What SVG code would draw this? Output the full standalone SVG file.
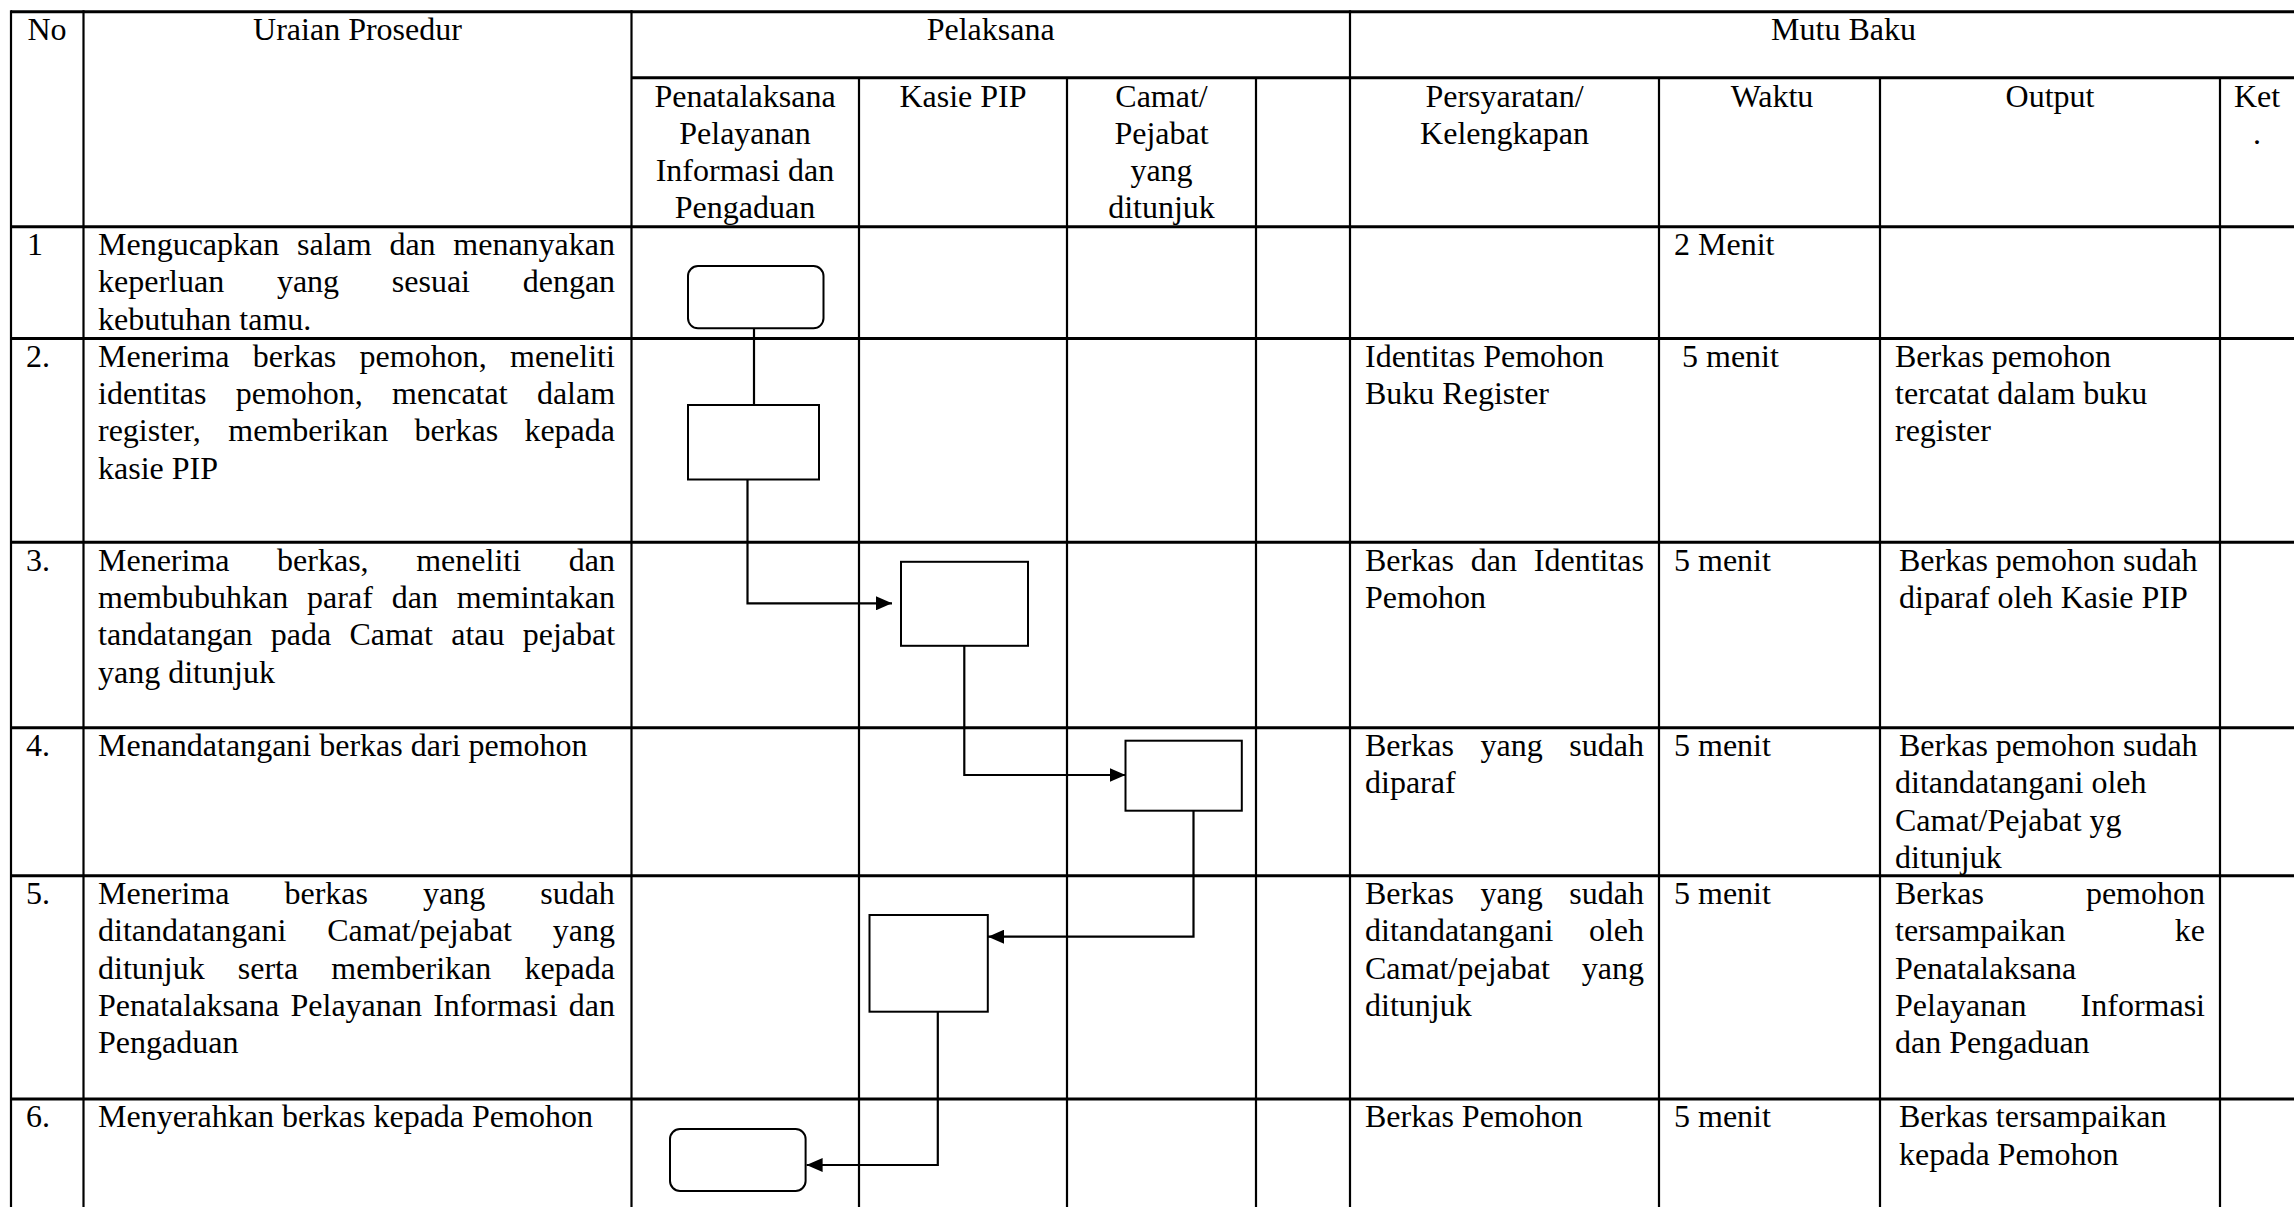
<svg xmlns="http://www.w3.org/2000/svg" width="2294" height="1207" viewBox="0 0 2294 1207">
<style>
.h{stroke:#000;stroke-width:3;fill:none}
.v{stroke:#000;stroke-width:2.2;fill:none}
.t{font-family:'Liberation Serif','Times New Roman',serif;font-size:32px;fill:#000}
.c{text-anchor:middle}
.node{fill:#fff;stroke:#000;stroke-width:2}
.conn{fill:none;stroke:#000;stroke-width:2.2}
</style>
<defs>
<marker id="arr" markerUnits="userSpaceOnUse" viewBox="0 0 16 14" refX="16" refY="7" markerWidth="16" markerHeight="14" orient="auto">
<path d="M0,0 L16,7 L0,14 z" fill="#000"/>
</marker>
</defs>
<rect x="0" y="0" width="2294" height="1207" fill="#fff"/>
<g id="table">
<line class="h" x1="11" y1="11.7" x2="2340" y2="11.7"/>
<line class="h" x1="631.5" y1="77.7" x2="2340" y2="77.7"/>
<line class="h" x1="11" y1="226.7" x2="2340" y2="226.7"/>
<line class="h" x1="11" y1="338.5" x2="2340" y2="338.5"/>
<line class="h" x1="11" y1="542.3" x2="2340" y2="542.3"/>
<line class="h" x1="11" y1="727.7" x2="2340" y2="727.7"/>
<line class="h" x1="11" y1="875.7" x2="2340" y2="875.7"/>
<line class="h" x1="11" y1="1099" x2="2340" y2="1099"/>
<line class="v" x1="11" y1="10.2" x2="11" y2="1210"/>
<line class="v" x1="83.5" y1="10.2" x2="83.5" y2="1210"/>
<line class="v" x1="631.5" y1="10.2" x2="631.5" y2="1210"/>
<line class="v" x1="859" y1="77.7" x2="859" y2="1210"/>
<line class="v" x1="1067" y1="77.7" x2="1067" y2="1210"/>
<line class="v" x1="1256" y1="77.7" x2="1256" y2="1210"/>
<line class="v" x1="1350" y1="10.2" x2="1350" y2="1210"/>
<line class="v" x1="1659" y1="77.7" x2="1659" y2="1210"/>
<line class="v" x1="1880" y1="77.7" x2="1880" y2="1210"/>
<line class="v" x1="2220" y1="77.7" x2="2220" y2="1210"/>
</g>
<g id="header" class="t" font-family="Liberation Serif, serif">
<text class="c" x="47" y="40">No</text>
<text class="c" x="357.5" y="40">Uraian Prosedur</text>
<text class="c" x="990.7" y="40">Pelaksana</text>
<text class="c" x="1843.5" y="40">Mutu Baku</text>
<text class="c" x="745" y="107">Penatalaksana</text>
<text class="c" x="745" y="144">Pelayanan</text>
<text class="c" x="745" y="181">Informasi dan</text>
<text class="c" x="745" y="218">Pengaduan</text>
<text class="c" x="963" y="107">Kasie PIP</text>
<text class="c" x="1161.5" y="107">Camat/</text>
<text class="c" x="1161.5" y="144">Pejabat</text>
<text class="c" x="1161.5" y="181">yang</text>
<text class="c" x="1161.5" y="218">ditunjuk</text>
<text class="c" x="1504.5" y="107">Persyaratan/</text>
<text class="c" x="1504.5" y="144">Kelengkapan</text>
<text class="c" x="1772" y="107">Waktu</text>
<text class="c" x="2050" y="107">Output</text>
<text class="c" x="2257" y="107">Ket</text>
<text class="c" x="2257" y="144">.</text>
</g>
<g id="row1" class="t" font-family="Liberation Serif, serif">
<text x="27" y="255">1</text>
<text y="255"><tspan x="98">Mengucapkan</tspan><tspan x="297">salam</tspan><tspan x="389.4">dan</tspan><tspan x="453.3">menanyakan</tspan></text>
<text y="292.3"><tspan x="98">keperluan</tspan><tspan x="276.9">yang</tspan><tspan x="391.8">sesuai</tspan><tspan x="522.7">dengan</tspan></text>
<text x="98" y="329.6">kebutuhan tamu.</text>
<text x="1674" y="255">2 Menit</text>
</g>
<g id="row2" class="t" font-family="Liberation Serif, serif">
<text x="26" y="366.8">2.</text>
<text y="366.8"><tspan x="98">Menerima</tspan><tspan x="252.8">berkas</tspan><tspan x="359.6">pemohon,</tspan><tspan x="510">meneliti</tspan></text>
<text y="404.1"><tspan x="98">identitas</tspan><tspan x="235.7">pemohon,</tspan><tspan x="392.1">mencatat</tspan><tspan x="536.9">dalam</tspan></text>
<text y="441.4"><tspan x="98">register,</tspan><tspan x="228.3">memberikan</tspan><tspan x="414.6">berkas</tspan><tspan x="524.4">kepada</tspan></text>
<text x="98" y="478.7">kasie PIP</text>
<text x="1365" y="366.8">Identitas Pemohon</text>
<text x="1365" y="404.1">Buku Register</text>
<text x="1682" y="366.8">5 menit</text>
<text x="1895" y="366.8">Berkas pemohon</text>
<text x="1895" y="404.1">tercatat dalam buku</text>
<text x="1895" y="441.4">register</text>
</g>
<g id="row3" class="t" font-family="Liberation Serif, serif">
<text x="26" y="570.6">3.</text>
<text y="570.6"><tspan x="98">Menerima</tspan><tspan x="277.1">berkas,</tspan><tspan x="416.2">meneliti</tspan><tspan x="568.7">dan</tspan></text>
<text y="607.9"><tspan x="98">membubuhkan</tspan><tspan x="307.1">paraf</tspan><tspan x="391.7">dan</tspan><tspan x="456.8">memintakan</tspan></text>
<text y="645.2"><tspan x="98">tandatangan</tspan><tspan x="270.8">pada</tspan><tspan x="349.4">Camat</tspan><tspan x="451.2">atau</tspan><tspan x="522.7">pejabat</tspan></text>
<text x="98" y="682.5">yang ditunjuk</text>
<text y="570.6"><tspan x="1365">Berkas</tspan><tspan x="1470.7">dan</tspan><tspan x="1533.8">Identitas</tspan></text>
<text x="1365" y="607.9">Pemohon</text>
<text x="1674" y="570.6">5 menit</text>
<text x="1899" y="570.6">Berkas pemohon sudah</text>
<text x="1899" y="607.9">diparaf oleh Kasie PIP</text>
</g>
<g id="row4" class="t" font-family="Liberation Serif, serif">
<text x="26" y="756">4.</text>
<text x="98" y="756">Menandatangani berkas dari pemohon</text>
<text y="756"><tspan x="1365">Berkas</tspan><tspan x="1480.5">yang</tspan><tspan x="1569.3">sudah</tspan></text>
<text x="1365" y="793.3">diparaf</text>
<text x="1674" y="756">5 menit</text>
<text x="1899" y="756">Berkas pemohon sudah</text>
<text x="1895" y="793.3">ditandatangani oleh</text>
<text x="1895" y="830.6">Camat/Pejabat yg</text>
<text x="1895" y="867.9">ditunjuk</text>
</g>
<g id="row5" class="t" font-family="Liberation Serif, serif">
<text x="26" y="904">5.</text>
<text y="904"><tspan x="98">Menerima</tspan><tspan x="284.5">berkas</tspan><tspan x="423">yang</tspan><tspan x="540.2">sudah</tspan></text>
<text y="941.3"><tspan x="98">ditandatangani</tspan><tspan x="327.2">Camat/pejabat</tspan><tspan x="552.8">yang</tspan></text>
<text y="978.6"><tspan x="98">ditunjuk</tspan><tspan x="237.8">serta</tspan><tspan x="331.3">memberikan</tspan><tspan x="524.4">kepada</tspan></text>
<text y="1015.9"><tspan x="98">Penatalaksana</tspan><tspan x="290.5">Pelayanan</tspan><tspan x="433.2">Informasi</tspan><tspan x="568.8">dan</tspan></text>
<text x="98" y="1053.2">Pengaduan</text>
<text y="904"><tspan x="1365">Berkas</tspan><tspan x="1480.5">yang</tspan><tspan x="1569.3">sudah</tspan></text>
<text y="941.3"><tspan x="1365">ditandatangani</tspan><tspan x="1588.9">oleh</tspan></text>
<text y="978.6"><tspan x="1365">Camat/pejabat</tspan><tspan x="1581.8">yang</tspan></text>
<text x="1365" y="1015.9">ditunjuk</text>
<text x="1674" y="904">5 menit</text>
<text y="904"><tspan x="1895">Berkas</tspan><tspan x="2085.9">pemohon</tspan></text>
<text y="941.3"><tspan x="1895">tersampaikan</tspan><tspan x="2174.8">ke</tspan></text>
<text x="1895" y="978.6">Penatalaksana</text>
<text y="1015.9"><tspan x="1895">Pelayanan</tspan><tspan x="2080.6">Informasi</tspan></text>
<text x="1895" y="1053.2">dan Pengaduan</text>
</g>
<g id="row6" class="t" font-family="Liberation Serif, serif">
<text x="26" y="1127.3">6.</text>
<text x="98" y="1127.3">Menyerahkan berkas kepada Pemohon</text>
<text x="1365" y="1127.3">Berkas Pemohon</text>
<text x="1674" y="1127.3">5 menit</text>
<text x="1899" y="1127.3">Berkas tersampaikan</text>
<text x="1899" y="1164.6">kepada Pemohon</text>
</g>
<g id="connectors">
<polyline class="conn" points="754,328.3 754,405"/>
<polyline class="conn" points="747.5,479.5 747.5,603.3 892,603.3" marker-end="url(#arr)"/>
<polyline class="conn" points="964.3,646 964.3,775 1125.5,775" marker-end="url(#arr)"/>
<polyline class="conn" points="1193.5,810.7 1193.5,936.7 988,936.7" marker-end="url(#arr)"/>
<polyline class="conn" points="937.8,1011.7 937.8,1165 806.6,1165" marker-end="url(#arr)"/>
</g>
<g id="node1"><rect class="node" x="688" y="266" width="135.5" height="62.3" rx="10"/></g>
<g id="node2"><rect class="node" x="688" y="405" width="131" height="74.5"/></g>
<g id="node3"><rect class="node" x="901" y="561.8" width="127" height="84"/></g>
<g id="node4"><rect class="node" x="1125.5" y="740.7" width="116.3" height="70"/></g>
<g id="node5"><rect class="node" x="869.5" y="915" width="118.3" height="96.7"/></g>
<g id="node6"><rect class="node" x="670" y="1129" width="135.6" height="62" rx="10"/></g>
</svg>
